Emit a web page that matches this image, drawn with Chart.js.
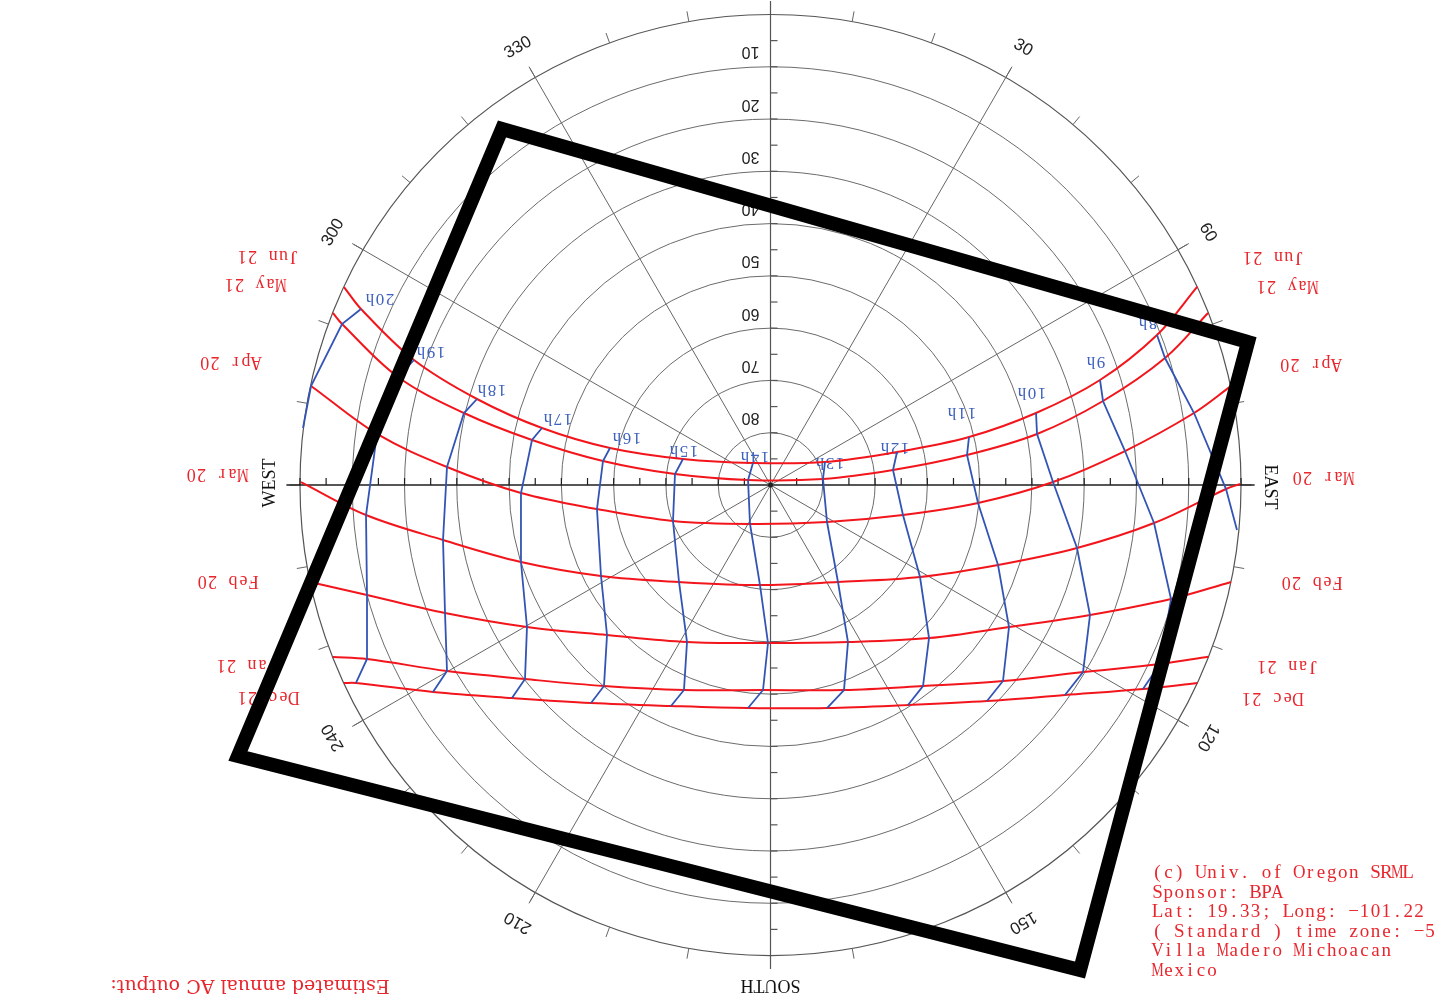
<!DOCTYPE html>
<html><head><meta charset="utf-8">
<script src="https://cdn.jsdelivr.net/npm/chart.js@4/dist/chart.umd.min.js"></script>
<style>html,body{margin:0;padding:0;background:#fff;overflow:hidden}#wrap{position:relative;width:1448px;height:1004px}</style>
</head><body><div id="wrap"><canvas id="c"></canvas></div>
<script>
// ---- DATA (x = east offset, y = north offset, in degrees of zenith angle) ----
const dates = ['Jun 21','May 21','Apr 20','Mar 20','Feb 20','Jan 21','Dec 21'];
const hourLabels = ['8h','9h','10h','11h','12h','13h','14h','15h','16h','17h','18h','19h','20h'];
const jun21 = [[73.93,28.69],[63.03,20.08],[50.79,13.77],[37.97,9.18],[24.20,6.31],[10.42,4.40],[-3.35,4.21],[-16.74,4.97],[-30.70,7.08],[-43.71,10.90],[-56.14,16.45],[-68.19,23.91],[-78.33,33.67]];
const may21 = [[75.46,24.29],[63.60,16.07],[50.98,9.76],[37.59,5.74],[23.43,2.87],[10.04,1.15],[-4.30,0.96],[-18.27,2.10],[-32.04,4.59],[-45.62,8.61],[-58.63,13.77],[-71.25,20.66],[-81.96,30.80]];
const apr20 = [[81.01,13.77],[67.81,6.50],[54.04,0.57],[39.69,-3.44],[25.34,-5.74],[10.81,-7.08],[-3.92,-7.46],[-18.65,-6.89],[-33.19,-4.59],[-47.73,-1.53],[-61.88,3.44],[-75.27,9.76],[-87.89,18.94]];
const mar20 = [[87.13,-0.77],[73.36,-7.27],[58.63,-12.05],[43.52,-15.30],[28.60,-17.60],[12.91,-18.55],[-2.01,-19.13],[-17.50,-18.55],[-32.42,-17.41],[-47.73,-14.73],[-62.64,-10.52],[-77.37,-5.74],null];
const feb20 = [null,[76.61,-21.81],[61.11,-24.87],[45.62,-27.16],[30.32,-29.27],[14.82,-30.03],[-0.48,-30.22],[-15.97,-30.03],[-31.27,-28.69],[-46.58,-27.16],[-62.26,-24.48],[-77.18,-21.04],null];
const jan21 = [null,[74.50,-34.24],[59.78,-35.77],[44.47,-37.49],[29.17,-38.45],[14.06,-39.21],[-1.43,-39.21],[-16.55,-39.21],[-31.85,-38.45],[-46.96,-37.11],[-61.88,-35.58],[-77.18,-33.28],null];
const dec21 = [null,[71.25,-39.02],[56.33,-40.17],[41.41,-41.32],[26.30,-42.08],[10.81,-42.66],[-4.30,-42.66],[-19.03,-42.27],[-34.33,-41.70],[-49.45,-40.74],[-64.56,-39.59],[-79.29,-37.87],null];
const sunriseEnds = [[81.64,37.95],[83.69,32.90],[87.99,18.86],[89.81,0.19],[88.09,-18.55],[83.78,-32.84],[81.64,-37.89]];
const sunsetEnds = [[-81.58,37.87],[-83.69,32.90],[-88.00,18.86],[-89.81,0.57],[-88.09,-18.55],[-83.69,-32.90],[-81.58,-37.87]];
const hourHorizonEnds = [[89.23,-8.61],null,null,null,null,null,null,null,null,null,null,null,[-89.42,10.90]];
const panelOutline = [[-51.36,68.10],[91.34,27.35],[59.20,-92.77],[-101.86,-51.84]];
const ringElevations = [80,70,60,50,40,30,20,10,0];
const ringLabels = ['80','70','60','50','40','30','20','10'];
const spokeAzimuths = [30,60,120,150,210,240,300,330];
const spokeLabels = ['30','60','120','150','210','240','300','330'];
const creditLines = ['(c) Univ. of Oregon SRML','Sponsor: BPA','Lat: 19.33; Long: \u2212101.22','( Standard ) time zone: \u22125','Villa Madero Michoacan','Mexico'];
const outputNote = 'Estimated annual AC output:';

// ---- STYLE / LAYOUT ----
const RED = '#f2161c', RED_TXT = '#e8262d', BLUE = '#3354b4', BLUE_TXT = '#3f62bd', GRID = '#6c6c6c';
const hourLabelOffsets = [[-9,-13],[-4,-19],[-4,-21],[-7,-25],[-2,-5],[5,0],[2,-7],[1,-9],[17,-11],[16,-10],[15,-10],[17,-9],[19,-11]];
const riseLabelOffsets = [[76,-30],[79,-27],[80,-23],[83,-7],[81,0],[79,9],[75,15]];
const setLabelOffsets = [[-76,-31],[-78,-29],[-80,-25],[-84,-8],[-82,-1],[-86,8],[-76,14]];

const daySeries = [jun21, may21, apr20, mar20, feb20, jan21, dec21];
const toXY = p => ({x:p[0], y:p[1]});

const datasets = [];
daySeries.forEach((s,d)=>{
  const pts = [sunriseEnds[d], ...s.filter(p=>p), sunsetEnds[d]].map(toXY);
  datasets.push({label:dates[d], data:pts, showLine:true, borderColor:RED, borderWidth:2, tension:0.35, pointRadius:0, order:2});
});
hourLabels.forEach((h,i)=>{
  const pts = daySeries.map(s=>s[i]).filter(p=>p);
  if (hourHorizonEnds[i]) pts.push(hourHorizonEnds[i]);
  datasets.push({label:h, data:pts.map(toXY), showLine:true, borderColor:BLUE, borderWidth:1.8, tension:0, pointRadius:0, order:1});
});
datasets.push({label:'panel', data:[...panelOutline, panelOutline[0], panelOutline[1]].map(toXY), showLine:true, borderColor:'#000', borderWidth:14, borderJoinStyle:'miter', tension:0, pointRadius:0, order:0});

function drawMono(c, text, x, y, rot, cell, font, color){
  c.save(); c.translate(x,y); c.rotate(rot); c.font=font; c.fillStyle=color; c.textAlign='center'; c.textBaseline='middle';
  const chars=[...text]; const n=chars.length;
  chars.forEach((ch,i)=>{
    const px=-n*cell/2+cell*(i+0.5); const w=c.measureText(ch).width; const s=w>cell*1.15?cell*1.15/w:1;
    c.save(); c.translate(px,0); c.scale(s,1); c.fillText(ch,0,0); c.restore();
  });
  c.restore();
}
function drawText(c, text, x, y, rot, font, color){
  c.save(); c.translate(x,y); c.rotate(rot); c.font=font; c.fillStyle=color; c.textAlign='center'; c.textBaseline='middle'; c.fillText(text,0,0); c.restore();
}

const sunGrid = {
  id:'sunGrid',
  beforeDraw(chart){ const c=chart.ctx; c.save(); c.fillStyle='#fff'; c.fillRect(0,0,chart.width,chart.height); c.restore(); },
  beforeDatasetsDraw(chart){
    const c=chart.ctx, xs=chart.scales.x, ys=chart.scales.y;
    const cx=xs.getPixelForValue(0), cy=ys.getPixelForValue(0), u=xs.getPixelForValue(1)-cx;
    const P=v=>[xs.getPixelForValue(v[0]), ys.getPixelForValue(v[1])];
    const polar=(az,r)=>[cx+r*Math.sin(az*Math.PI/180), cy-r*Math.cos(az*Math.PI/180)];
    c.save();
    c.lineCap='butt';
    ringElevations.forEach(e=>{ c.beginPath(); c.strokeStyle=e===0?'#555':GRID; c.lineWidth=e===0?1.2:1; c.arc(cx,cy,(90-e)*u,0,Math.PI*2); c.stroke(); });
    c.strokeStyle='#666'; c.lineWidth=1;
    spokeAzimuths.forEach(az=>{ const p=polar(az,92.4*u); c.beginPath(); c.moveTo(cx,cy); c.lineTo(p[0],p[1]); c.stroke(); });
    for(let az=0; az<360; az+=10){ const a=polar(az,90*u), b=polar(az,92*u); c.beginPath(); c.moveTo(a[0],a[1]); c.lineTo(b[0],b[1]); c.stroke(); }
    c.strokeStyle='#555'; c.lineWidth=1.2;
    c.beginPath(); c.moveTo(cx,cy-92.6*u); c.lineTo(cx,cy+92.6*u); c.stroke();
    for(let z=5; z<90; z+=5){ [cy-z*u, cy+z*u].forEach(y=>{ c.beginPath(); c.moveTo(cx,y); c.lineTo(cx+7,y); c.stroke(); }); }
    c.strokeStyle='#1e1e1e'; c.lineWidth=1.5;
    c.beginPath(); c.moveTo(cx-92.6*u,cy); c.lineTo(cx+92.6*u,cy); c.stroke();
    c.lineWidth=1.2;
    for(let z=5; z<=90; z+=5){ [cx-z*u, cx+z*u].forEach(x=>{ c.beginPath(); c.moveTo(x,cy); c.lineTo(x,cy-7); c.stroke(); }); }
    c.fillStyle='#222'; c.beginPath(); c.arc(cx,cy,2.5,0,Math.PI*2); c.fill();
    ringLabels.forEach((t,i)=>{ const e=ringElevations[i]; drawText(c,t,cx-20,cy-(90-e)*u-15,Math.PI,'16px "Liberation Sans"','#222'); });
    spokeAzimuths.forEach((az,i)=>{ const p=polar(az,96.6*u); drawText(c,spokeLabels[i],p[0],p[1],az*Math.PI/180,'17px "Liberation Sans"','#222'); });
    drawText(c,'EAST',cx+95.5*u,cy+2,Math.PI/2,'18px "Liberation Serif"','#111');
    drawText(c,'WEST',cx-95.7*u,cy-2,-Math.PI/2,'18px "Liberation Serif"','#111');
    drawText(c,'SOUTH',cx,cy+95.6*u,Math.PI,'18px "Liberation Serif"','#111');
    dates.forEach((d,i)=>{
      const r=P(sunriseEnds[i]), s=P(sunsetEnds[i]);
      drawMono(c,d,r[0]+riseLabelOffsets[i][0],r[1]+riseLabelOffsets[i][1],Math.PI,10.3,'18px "Liberation Serif"',RED_TXT);
      drawMono(c,d,s[0]+setLabelOffsets[i][0],s[1]+setLabelOffsets[i][1],Math.PI,10.3,'18px "Liberation Serif"',RED_TXT);
    });
    hourLabels.forEach((h,i)=>{ const p=P(jun21[i]); drawMono(c,h,p[0]+hourLabelOffsets[i][0],p[1]+hourLabelOffsets[i][1],Math.PI,10,'17px "Liberation Serif"',BLUE_TXT); });
    creditLines.forEach((t,i)=>{ const n=[...t].length; drawMono(c,t,1152+n*10.9/2,873+i*19.6,0,10.9,'19px "Liberation Serif"',RED_TXT); });
    drawText(c,outputNote,250,985,Math.PI,'19px "DejaVu Serif"',RED_TXT);
    c.restore();
  }
};

new Chart(document.getElementById('c'), {
  type:'scatter',
  data:{datasets},
  options:{
    animation:false, responsive:true, maintainAspectRatio:false,
    layout:{padding:0},
    plugins:{legend:{display:false}, tooltip:{enabled:false}},
    scales:{
      x:{type:'linear', min:-147.38, max:129.59, display:false},
      y:{type:'linear', min:-99.27, max:92.77, display:false}
    }
  },
  plugins:[sunGrid]
});
</script></body></html>
